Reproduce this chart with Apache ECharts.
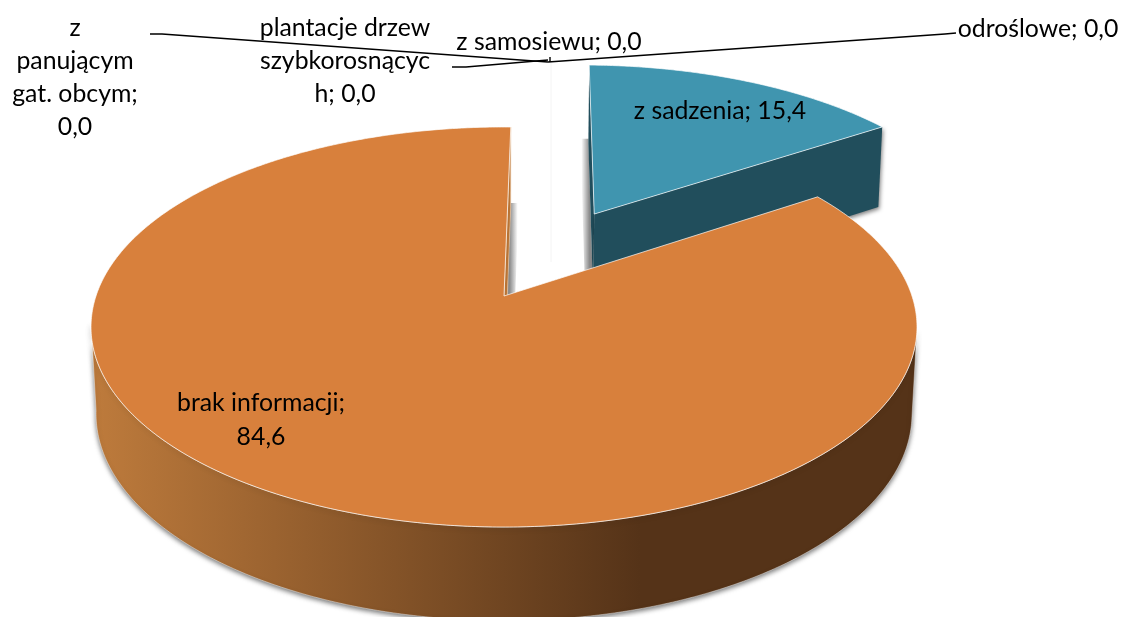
<!DOCTYPE html>
<html>
<head>
<meta charset="utf-8">
<style>
    html, body { margin: 0; padding: 0; background: #fff; }
    #main { width: 1122px; height: 617px; }
</style>
<script src="https://cdn.jsdelivr.net/npm/echarts@6/dist/echarts.min.js"></script>
</head>
<body>
<div id="main"></div>
<script>
    // dane z wykresu
    var categories = ['z sadzenia', 'z samosiewu', 'odroślowe', 'plantacje drzew szybkorosnących', 'z panującym gat. obcym', 'brak informacji'];
    var values = [15.4, 0, 0, 0, 0, 84.6];
    var labelTexts = ['z sadzenia; 15,4', 'z samosiewu; 0,0', 'odroślowe; 0,0', 'plantacje drzew\nszybkorosnącyc\nh; 0,0', 'z\npanującym\ngat. obcym;\n0,0', 'brak informacji;\n84,6'];

    // uklad: rzut perspektywiczny kola 3d
    var apexX = 504, apexY = 296;
    var R = 408, K = 195.2, P = 0.155;
    var K2 = 191, H = 87.2, Q = 0.012;
    var ROT = 1.1;
    var FRONT_FROM = 100, FRONT_TO = 262; // widoczna czesc boku
    var labelPos = [[720, 111], [549, 42], [1038, 29], [345, 61], [75, 78], [261, 420]];
    var labelLine = [34, 33, 33, 33, 33, 34];
    var explode = [[0.2365, 0.449], [0, 0], [0, 0], [0, 0], [0, 0], [0, 0]];
    var leaders = [
        null,
        [[550, 57], [550, 62]],
        [[956, 33], [945, 34], [548, 62]],
        [[452, 67], [466, 67], [548, 60]],
        [[150, 34], [162, 34], [548, 62]],
        null
    ];
    var topColors = ['#4095AF', '', '', '', '', '#D8803C'];
    var sideColors = ['#214E5C', '', '', '', '', '#B87436'];

    function proj(u, v, bottom) {
        var w = 1 + P * v + (bottom ? Q : 0);
        var y = bottom ? (K2 * v - H) / w : K * v / w;
        return [apexX + R * u / w, apexY - y];
    }

    function rimPoint(deg, off, bottom) {
        var a = deg * Math.PI / 180;
        return proj(off[0] + Math.sin(a), off[1] + Math.cos(a), bottom);
    }

    function arc(from, to, off, bottom) {
        var pts = [];
        var n = Math.ceil(Math.abs(to - from) * 2);
        for (var i = 0; i <= n; i++) {
            pts.push(rimPoint(from + (to - from) * i / n, off, bottom));
        }
        return pts;
    }

    function sliceStart(idx) {
        var total = 0, sum = 0;
        for (var i = 0; i < values.length; i++) {
            total += values[i];
            if (i < idx) sum += values[i];
        }
        return ROT + sum / total * 360;
    }

    function face(deg, off) {
        return [
            proj(off[0], off[1], false),
            rimPoint(deg, off, false),
            rimPoint(deg, off, true),
            proj(off[0], off[1], true)
        ];
    }

    // miekki cien sciany ciecia
    function faceShadow(deg, off, dir) {
        var rim = rimPoint(deg, off, true);
        var low = proj(off[0], off[1], true);
        var wide = 8 * dir;
        return {
            type: 'polygon',
            shape: { points: [[rim[0], rim[1] - 4], [rim[0] + wide, rim[1] - 4], [low[0] + wide, low[1]], [low[0], low[1]]] },
            style: {
                fill: new echarts.graphic.LinearGradient(rim[0] - dir, 0, rim[0] + wide - dir, 0, [
                    { offset: 0, color: 'rgba(0,0,0,0.45)' },
                    { offset: 1, color: 'rgba(0,0,0,0)' }
                ], true)
            }
        };
    }

    function renderItem(params, api) {
        var idx = api.value(0);
        var val = api.value(1);
        var off = explode[idx];
        var children = [];

        if (val > 0) {
            var from = sliceStart(idx);
            var to = from + val * 3.6;
            var topPts = [proj(off[0], off[1], false)].concat(arc(from, to, off, false));

            if (idx === 0) {
                // wycinek wysuniety: widac tylko sciany ciecia
                children.push(faceShadow(from, off, -1));
                children.push({
                    type: 'polygon', shape: { points: face(from, off) },
                    style: { fill: sideColors[idx] }
                });
                children.push({
                    type: 'polygon', shape: { points: face(to, off) },
                    style: { fill: sideColors[idx], shadowBlur: 4, shadowColor: 'rgba(0,0,0,0.5)', shadowOffsetX: 1, shadowOffsetY: 2 }
                });
            } else {
                var strip = arc(FRONT_FROM, FRONT_TO, off, false).concat(arc(FRONT_TO, FRONT_FROM, off, true));
                var grad = new echarts.graphic.LinearGradient(91, 0, 640, 0, [
                    { offset: 0, color: '#BE7B3C' },
                    { offset: 1, color: '#553318' }
                ], true);
                children.push(faceShadow(to, off, 1));
                children.push({
                    type: 'polygon', shape: { points: face(to, off) },
                    style: { fill: sideColors[idx], stroke: '#EBC9A8', lineWidth: 0.6 }
                });
                children.push({
                    type: 'polygon', shape: { points: strip },
                    style: { fill: grad, stroke: 'rgba(255,255,255,0.6)', lineWidth: 0.7, shadowBlur: 5, shadowColor: 'rgba(0,0,0,0.55)', shadowOffsetY: 2 }
                });
            }
            children.push({
                type: 'polygon', shape: { points: topPts },
                style: { fill: topColors[idx], stroke: 'rgba(255,255,255,0.85)', lineWidth: 0.8 }
            });
        }

        if (leaders[idx]) {
            children.push({
                type: 'polyline', shape: { points: leaders[idx] },
                style: { fill: null, stroke: '#000', lineWidth: 1.4 }
            });
        }

        children.push({
            type: 'text',
            style: {
                text: labelTexts[idx],
                x: labelPos[idx][0], y: labelPos[idx][1],
                align: 'center', verticalAlign: 'middle',
                fontFamily: 'Lato', fontSize: 24.8, lineHeight: labelLine[idx],
                fill: '#000'
            }
        });

        return { type: 'group', children: children };
    }

    var myChart = echarts.init(document.getElementById('main'));
    var seriesData = values.map(function (v, i) {
        return { name: categories[i], value: [i, v] };
    });

    myChart.setOption({
        animation: false,
        backgroundColor: '#fff',
        graphic: [{
            // slad zerowych wycinkow
            type: 'line', silent: true, z: 0,
            shape: { x1: 551, y1: 62, x2: 551, y2: 262 },
            style: { stroke: '#F4F4F4', lineWidth: 1 }
        }],
        series: [{
            type: 'custom',
            coordinateSystem: 'none',
            silent: true,
            renderItem: renderItem,
            data: seriesData
        }]
    });
</script>
</body>
</html>
